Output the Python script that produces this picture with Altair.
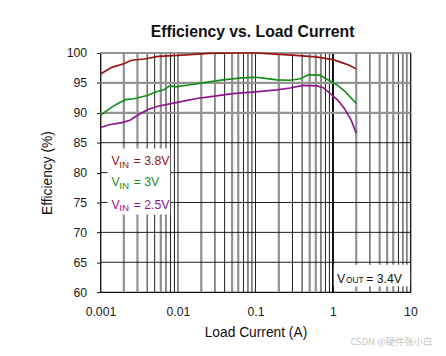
import altair as alt
import pandas as pd

# ---- data ----
red_I = [0.001, 0.0014, 0.002, 0.0025, 0.0037, 0.0055, 0.01, 0.025, 0.05, 0.1, 0.16, 0.33, 0.6, 1.0, 1.3, 1.6, 2.0]
red_E = [96.5, 97.6, 98.2, 98.8, 99.0, 99.45, 99.6, 99.95, 100.0, 100.0, 99.85, 99.6, 99.35, 98.9, 98.4, 98.0, 97.35]

green_I = [0.001, 0.0014, 0.0017, 0.0021, 0.0027, 0.004, 0.0055, 0.0066, 0.0079, 0.0093, 0.0145, 0.023, 0.038,
           0.062, 0.096, 0.12, 0.19, 0.28, 0.38, 0.48, 0.68, 0.87, 1.15, 1.45, 2.0]
green_E = [89.6, 90.95, 91.6, 92.2, 92.35, 92.9, 93.6, 93.85, 94.55, 94.35, 94.7, 95.1, 95.5,
           95.8, 95.95, 95.85, 95.5, 95.45, 95.7, 96.35, 96.3, 95.5, 94.6, 93.5, 91.55]

purple_I = [0.001, 0.0013, 0.0019, 0.0024, 0.003, 0.0041, 0.0055, 0.0073, 0.0098, 0.0175, 0.028, 0.051, 0.1,
            0.19, 0.28, 0.41, 0.62, 0.75, 0.95, 1.16, 1.41, 1.7, 2.0]
purple_E = [87.55, 88.0, 88.35, 88.75, 89.6, 90.55, 91.1, 91.4, 91.75, 92.4, 92.75, 93.2, 93.5,
            93.85, 94.15, 94.6, 94.5, 94.2, 93.1, 92.1, 90.7, 88.9, 86.6]

series_names = ["VIN = 3.8V", "VIN = 3V", "VIN = 2.5V"]
series_colors = ["#991515", "#178f17", "#8f168f"]

x_ticks = [0.001, 0.01, 0.1, 1, 10]
y_ticks = [60, 65, 70, 75, 80, 85, 90, 95, 100]
decades = [0.001, 0.01, 0.1, 1]
multipliers = [1, 2, 3, 4, 5, 6, 7, 8, 9]
grey_v = [0.002, 0.003, 0.006, 0.02, 0.05, 0.06, 0.2, 0.5, 0.6, 2, 4, 5, 6]
black_h = [65, 70, 75, 80, 85]
grey_h = [90, 95, 100]

legend_values = ["= 3.8V", "= 3V", "= 2.5V"]

# ---- tables ----
rows = []
for name, xs_, ys_ in zip(series_names, [red_I, green_I, purple_I], [red_E, green_E, purple_E]):
    for a, b in zip(xs_, ys_):
        rows.append({"I": a, "E": b, "s": name})
df = pd.DataFrame(rows)

black_v = pd.DataFrame({"I": [m * d for d in decades for m in multipliers] + [10]})
grey_v_df = pd.DataFrame({"I": grey_v})
black_h_df = pd.DataFrame({"E": black_h})
grey_h_df = pd.DataFrame({"E": grey_h})

xs = alt.Scale(type="log", domain=[0.001, 10], nice=False)
ys = alt.Scale(domain=[60, 100], nice=False, zero=False)
FONT = "Liberation Sans"

AX_X = alt.Axis(values=x_ticks, format="~g", grid=False, domain=False, ticks=False,
                labelFlush=False, labelOverlap=False,
                labelPadding=14, labelFontSize=12.5, labelFont=FONT, labelColor="#1a1a1a",
                titleFont=FONT, titleFontSize=14, titleFontWeight="normal", titleColor="#111",
                titlePadding=8)
AX_Y = alt.Axis(values=y_ticks, grid=False, domain=False, tickSize=4, tickColor="#111",
                labelFlush=False, labelOverlap=False,
                labelPadding=10, labelFontSize=12.5, labelFont=FONT, labelColor="#1a1a1a",
                titleFont=FONT, titleFontSize=14, titleFontWeight="normal", titleColor="#111",
                titlePadding=12)

def X(f="I"):
    return alt.X(f"{f}:Q", scale=xs, axis=AX_X, title="Load Current (A)")

def Y(f="E"):
    return alt.Y(f"{f}:Q", scale=ys, axis=AX_Y, title="Efficiency (%)")

vb = alt.Chart(black_v).mark_rule(color="#1a1a1a", strokeWidth=1).encode(x=X())
vg = alt.Chart(grey_v_df).mark_rule(color="#939393", strokeWidth=2.2).encode(x=X())
v1 = alt.Chart(pd.DataFrame({"I": [1]})).mark_rule(color="#000", strokeWidth=1.8).encode(x=X())
hb = alt.Chart(black_h_df).mark_rule(color="#1a1a1a", strokeWidth=1).encode(y=Y())
hg = alt.Chart(grey_h_df).mark_rule(color="#939393", strokeWidth=2.2).encode(y=Y())

cscale = alt.Scale(domain=series_names, range=series_colors)

lines = alt.Chart(df).mark_line(strokeWidth=1.7).encode(
    x=X(), y=Y(),
    color=alt.Color("s:N", scale=cscale, legend=None),
)

box1 = alt.Chart(pd.DataFrame({"x": [0.001227], "x2": [0.00795], "y": [84.03], "y2": [73.0]})).mark_rect(
    color="white").encode(x=X("x"), x2="x2:Q", y=Y("y"), y2="y2:Q")
box2 = alt.Chart(pd.DataFrame({"x": [1.022], "x2": [9.9], "y": [64.6], "y2": [61.0]})).mark_rect(
    color="white").encode(x=X("x"), x2="x2:Q", y=Y("y"), y2="y2:Q")

leg = pd.DataFrame({
    "s": series_names,
    "val": legend_values,
    "yb": [81.23, 77.78, 73.99],
    "ys": [80.74, 77.28, 73.50],
    "xv": [0.001392] * 3,
    "xs": [0.001743] * 3,
    "xt": [0.002679] * 3,
    "V": ["V"] * 3,
    "sub": ["IN"] * 3,
})
t_v = alt.Chart(leg).mark_text(align="left", baseline="alphabetic", fontSize=12.5, font=FONT).encode(
    x=X("xv"), y=Y("yb"), text="V:N",
    color=alt.Color("s:N", scale=cscale, legend=None))
t_s = alt.Chart(leg).mark_text(align="left", baseline="alphabetic", fontSize=10, font=FONT).encode(
    x=X("xs"), y=Y("ys"), text="sub:N",
    color=alt.Color("s:N", scale=cscale, legend=None))
t_t = alt.Chart(leg).mark_text(align="left", baseline="alphabetic", fontSize=12.5, font=FONT).encode(
    x=X("xt"), y=Y("yb"), text="val:N",
    color=alt.Color("s:N", scale=cscale, legend=None))

vout = pd.DataFrame({"x": [1.13, 1.473, 2.684], "y": [61.6, 61.6, 61.6],
                     "t": ["V", "OUT", "= 3.4V"], "fs": [12.5, 8.5, 12.5]})
t_out = alt.Chart(vout).mark_text(align="left", baseline="alphabetic", font=FONT, color="#111").encode(
    x=X("x"), y=Y("y"), text="t:N",
    size=alt.Size("fs:Q", scale=None, legend=None))

wm = alt.Chart(pd.DataFrame({"x": [1.68], "y": [51.6], "t": ["CSDN @硬件张小白"]})).mark_text(
    align="left", baseline="middle", fontSize=9.5, font="Noto Sans CJK SC", color="#c4c4c4").encode(
    x=X("x"), y=Y("y"), text="t:N")

chart = alt.layer(vb, vg, v1, hb, hg, lines, box1, box2, t_v, t_s, t_t, t_out, wm).properties(
    width=315, height=243,
    title=alt.TitleParams("Efficiency vs. Load Current", font=FONT, fontSize=16, fontWeight="bold",
                          color="#111", anchor="middle", offset=7, dx=-3),
    autosize=alt.AutoSizeParams(type="none"),
    padding={"left": 94, "top": 43, "right": 28, "bottom": 54},
).configure_view(stroke="#111", strokeWidth=1.2)

chart.save("out.html", embed_options={"renderer": "svg", "actions": False})
